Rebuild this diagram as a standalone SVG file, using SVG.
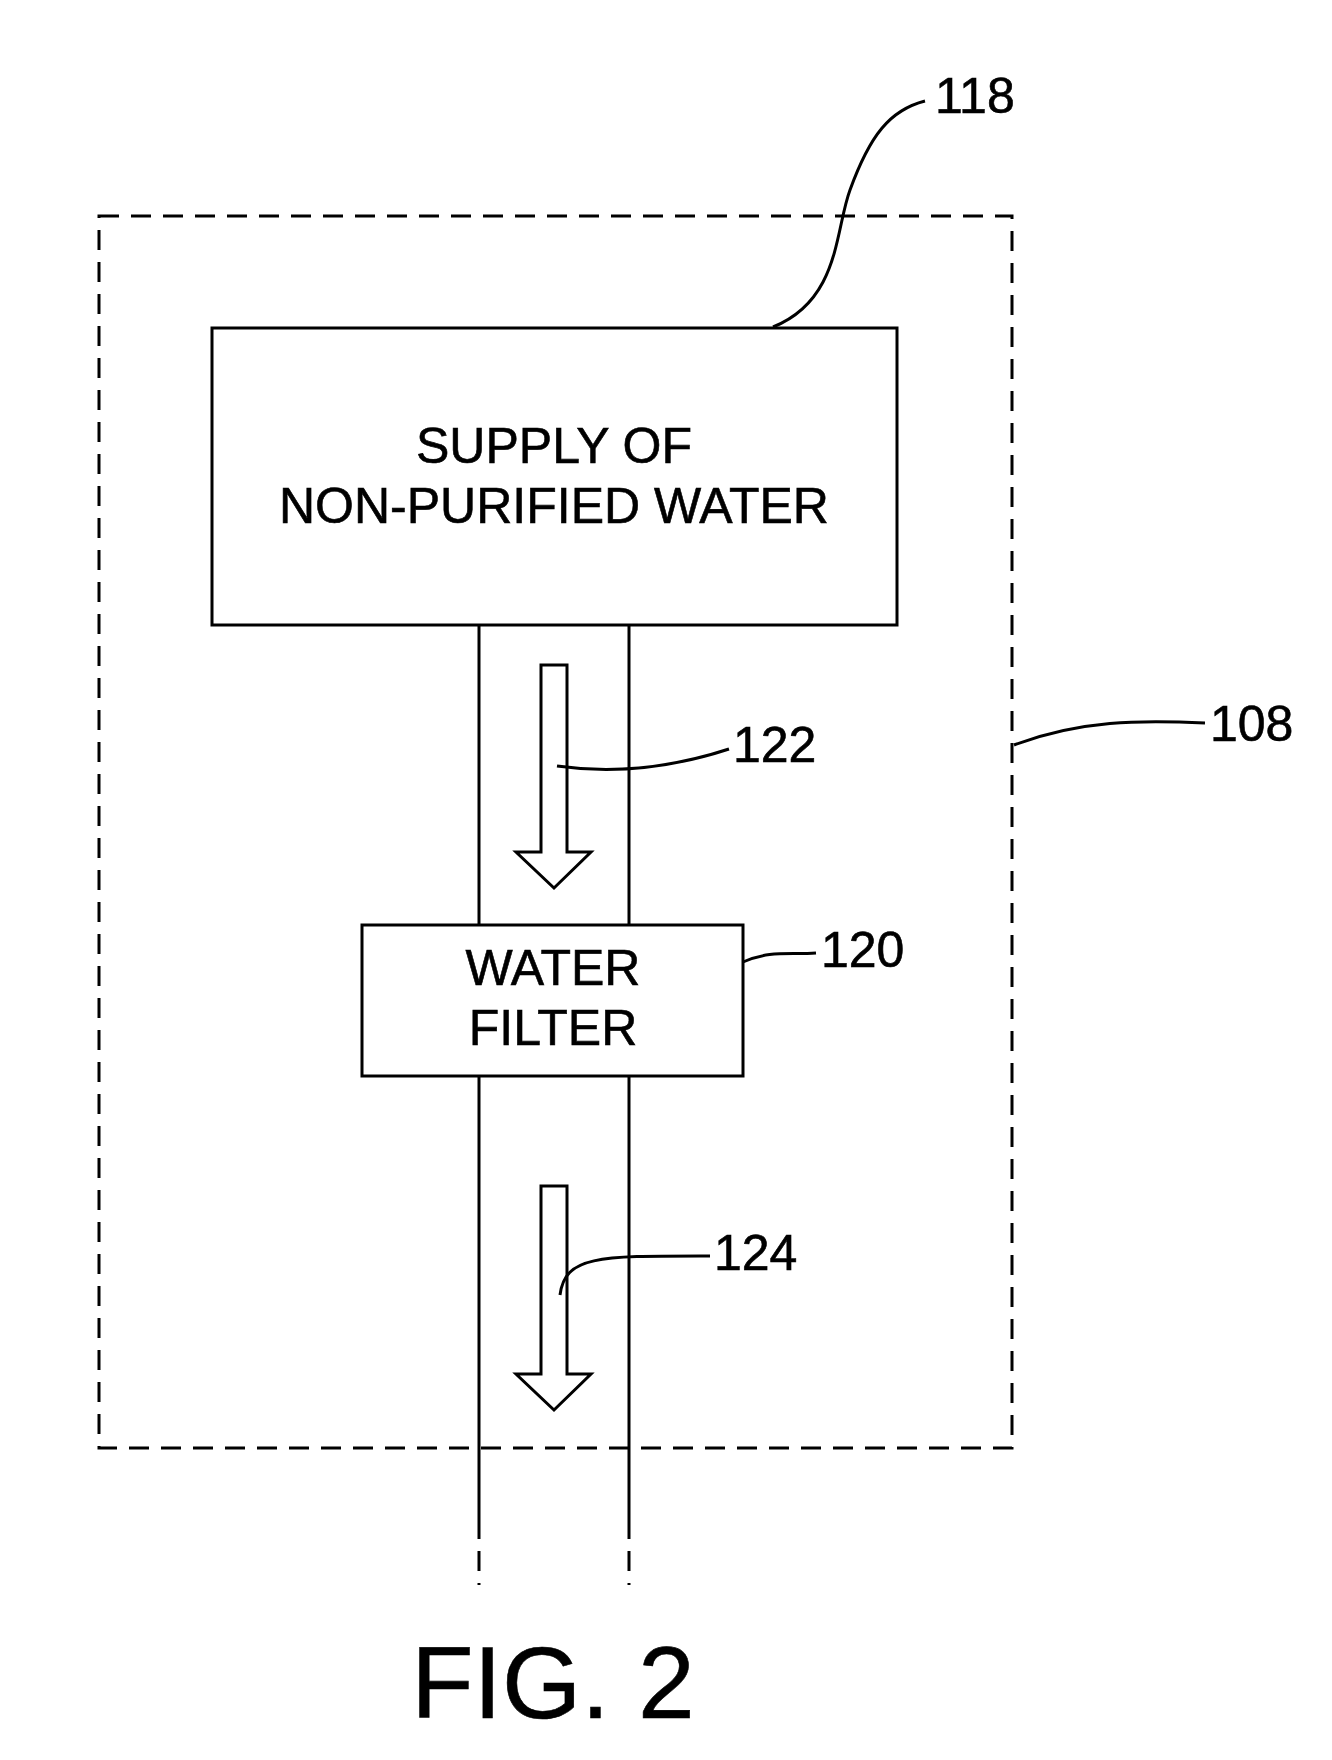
<svg xmlns="http://www.w3.org/2000/svg" width="1332" height="1760" viewBox="0 0 1332 1760">
<style>
.s{fill:none;stroke:#000;stroke-width:3}
.d{fill:none;stroke:#000;stroke-width:3;stroke-dasharray:20 12}
.t{font-family:"Liberation Sans",Arial,sans-serif;font-size:50px;fill:#000;text-anchor:middle;stroke:#000;stroke-width:0.6}
.l{font-family:"Liberation Sans",Arial,sans-serif;font-size:50px;fill:#000;stroke:#000;stroke-width:0.6}
</style>
<rect width="1332" height="1760" fill="#fff"/>
<g id="n108"><rect class="d" x="99" y="216" width="913" height="1232"/></g>
<g id="n118"><rect class="s" x="212" y="328" width="685" height="297"/>
<text class="t" x="554" y="463">SUPPLY OF</text><text class="t" x="554" y="523">NON-PURIFIED WATER</text></g>
<g id="n120"><rect class="s" x="362" y="925" width="381" height="151"/>
<text class="t" x="553" y="985">WATER</text><text class="t" x="553" y="1045">FILTER</text></g>
<g id="connectors">
<path class="s" d="M479 625V925M629 625V925M479 1076V1519M629 1076V1519"/>
<path class="d" d="M479 1519V1585M629 1519V1585"/>
<path class="s" d="M541 665H567V852H591L554 888L516 852H541Z"/>
<path class="s" d="M541 1186H567V1374H591L554 1410L516 1374H541Z"/>
<path class="s" stroke-width="2" d="M773 327C840 300 835 230 850 190C870 135 890 110 925 101"/>
<path class="s" stroke-width="2" d="M557 766C620 775 680 765 729 749"/>
<path class="s" stroke-width="2" d="M1014 745C1080 720 1140 720 1205 723"/>
<path class="s" stroke-width="2" d="M743 962C770 950 790 955 816 953"/>
<path class="s" stroke-width="2" d="M560 1295C565 1255 600 1256 710 1256"/>
</g>
<g id="labels">
<text class="l" x="935" y="113">118</text>
<text class="l" x="733" y="762">122</text>
<text class="l" x="1210" y="741">108</text>
<text class="l" x="821" y="967">120</text>
<text class="l" x="714" y="1270">124</text>
<text class="t" x="553" y="1718" style="font-size:102px">FIG. 2</text>
</g>
</svg>
